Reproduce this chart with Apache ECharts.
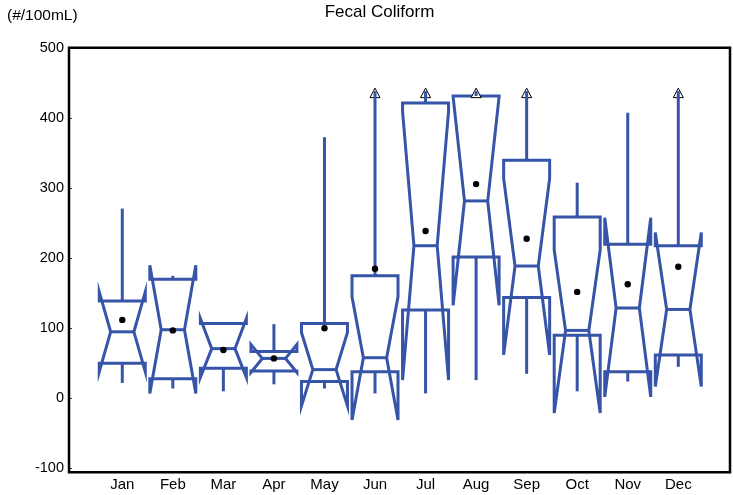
<!DOCTYPE html>
<html>
<head>
<meta charset="utf-8">
<script src="https://cdn.jsdelivr.net/npm/echarts@6/dist/echarts.min.js"></script>
<style>html,body{margin:0;padding:0;background:#fff}#c{width:733px;height:495px}</style>
</head>
<body>
<div id="c"></div>
<script>
// ---- data ----
const months = ['Jan','Feb','Mar','Apr','May','Jun','Jul','Aug','Sep','Oct','Nov','Dec'];
const monthPos = [1,2,3,4,5,6,7,8,9,10,11,12];
const whiskerLow  = [22, 14, 10, 20, 14, 7, 7, 26, 35, 10, 24, 45];
const q1          = [50, 28, 43, 39, 24, 38, 126, 202, 144, 90, 38, 62];
const median      = [95, 98, 71, 57, 41, 58, 218, 282, 189, 97, 129, 127];
const q3          = [139, 170, 107, 67, 107, 175, 422, 432, 340, 259, 220, 218];
const whiskerHigh = [271, 175, 108, 106, 373, 436, 436, 436, 436, 308, 408, 436];
const notchLow    = [38, 7, 30, 37, -11, -31, 26, 133, 62, -21, 2, 17];
const notchHigh   = [152, 190, 114, 77, 94, 145, 410, 431, 314, 212, 258, 237];
const mean        = [112, 97, 69, 57, 100, 185, 239, 306, 228, 152, 163, 188];
const offScale    = [0, 0, 0, 0, 0, 1, 1, 1, 1, 0, 0, 1];
const yTicks = [-100, 0, 100, 200, 300, 400, 500];

const rows = monthPos.map((x, i) => [x, whiskerLow[i], q1[i], median[i], q3[i], whiskerHigh[i], notchLow[i], notchHigh[i], mean[i], offScale[i]]);

const BLUE = '#3654a8';
const FONT = 'Liberation Sans, Arial, sans-serif';

function renderItem(params, api) {
  const x = api.value(0);
  const lo = api.value(1), a = api.value(2), m = api.value(3), b = api.value(4), hi = api.value(5);
  const nLo = api.value(6), nHi = api.value(7), mn = api.value(8), off = api.value(9);
  const hw = 0.455, iw = 0.23;
  const P = (dx, v) => api.coord([x + dx, v]);
  const c = P(0, 0)[0];
  const poly = [P(-hw, b), P(-hw, nHi), P(-iw, m), P(-hw, nLo), P(-hw, a),
                P(hw, a), P(hw, nLo), P(iw, m), P(hw, nHi), P(hw, b)];
  const lineStyle = {stroke: BLUE, lineWidth: 3, fill: null};
  const children = [
    {type: 'polygon', shape: {points: poly}, style: lineStyle},
    {type: 'line', shape: {x1: P(-iw, m)[0], y1: P(-iw, m)[1], x2: P(iw, m)[0], y2: P(iw, m)[1]}, style: lineStyle},
    {type: 'line', shape: {x1: c, y1: P(0, a)[1], x2: c, y2: P(0, lo)[1]}, style: lineStyle}
  ];
  const topY = P(0, hi)[1];
  if (off) {
    children.push({type: 'polygon', shape: {points: [[c, topY - 5], [c - 5, topY + 4.5], [c + 5, topY + 4.5]]},
      style: {fill: '#fff', stroke: '#000', lineWidth: 1}});
    children.push({type: 'line', shape: {x1: c, y1: P(0, b)[1], x2: c, y2: topY - 2}, style: lineStyle});
  } else {
    children.push({type: 'line', shape: {x1: c, y1: P(0, b)[1], x2: c, y2: topY}, style: lineStyle});
  }
  const mp = P(0, mn);
  children.push({type: 'circle', shape: {cx: mp[0], cy: mp[1], r: 3.2}, style: {fill: '#000'}});
  return {type: 'group', children: children};
}

const chart = echarts.init(document.getElementById('c'), null, {renderer: 'canvas'});
chart.setOption({
  animation: false,
  backgroundColor: '#fff',
  grid: {left: 69, right: 3, top: 47.7, bottom: 22.7, show: true, borderColor: '#000', borderWidth: 2.5, backgroundColor: 'transparent'},
  xAxis: {
    type: 'value', min: -0.054, max: 13.023,
    axisLine: {show: false}, axisTick: {show: false}, splitLine: {show: false},
    axisLabel: {customValues: monthPos, formatter: v => months[Math.round(v) - 1], color: '#000', fontSize: 15, fontFamily: FONT, margin: 5}
  },
  yAxis: {
    type: 'value', min: -105.7, max: 500.9,
    axisLine: {show: false}, splitLine: {show: false},
    axisTick: {show: true, customValues: yTicks, length: 2, lineStyle: {color: '#000', width: 1}},
    axisLabel: {customValues: yTicks, color: '#000', fontSize: 14.5, fontFamily: FONT, margin: 5, padding: [0, 0, 4, 0]}
  },
  graphic: [
    {type: 'text', left: 7, top: 8, style: {text: '(#/100mL)', fill: '#000', font: '15.5px ' + FONT}},
    {type: 'text', x: 379.5, y: 4, style: {text: 'Fecal Coliform', fill: '#000', font: '17px ' + FONT, textAlign: 'center'}}
  ],
  series: [{
    type: 'custom',
    renderItem: renderItem,
    data: rows,
    encode: {x: 0, y: [1, 5]},
    clip: false,
    z: 3
  }]
});
</script>
</body>
</html>
